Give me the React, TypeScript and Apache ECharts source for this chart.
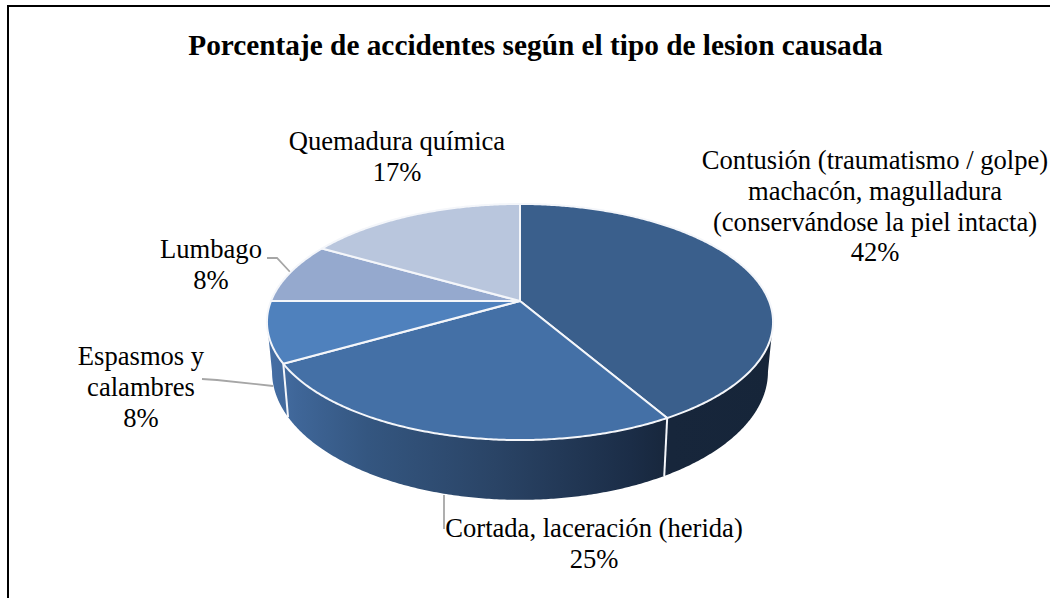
import React, { useEffect, useRef } from "react";
import * as echarts from "echarts";

const titleText = "Porcentaje de accidentes según el tipo de lesion causada";
const categories = [
  "Contusión (traumatismo / golpe)\nmachacón, magulladura\n(conservándose la piel intacta)",
  "Cortada, laceración (herida)",
  "Espasmos y\ncalambres",
  "Lumbago",
  "Quemadura química",
];
const values = [5, 3, 1, 1, 2];
const percents = ["42%", "25%", "8%", "8%", "17%"];
const topColors = ["#3a5f8c", "#4470a6", "#4f81bd", "#95a9ce", "#b9c6dd"];

// layout of the labels: centre x and first-line y
const labelAnchors = [
  [875, 145],
  [594, 513],
  [141, 341],
  [211, 234],
  [397, 126],
];
const leaderLines = [
  [],
  [[444, 495], [444, 529]],
  [[202, 379], [217, 380], [273, 386]],
  [[267, 258], [277, 258], [291, 273]],
  [],
];

const CX = 520;
const TOP_Y = 301;
const A = 249;
const C = 114.3;
const K = 0.178;
const BOT_Y = 349;
const A_BOT = 244;
const C_BOT = 124;

const rad = (d: number) => (d * Math.PI) / 180;
const topPt = (deg: number) => {
  const u = Math.sin(rad(deg));
  const v = Math.cos(rad(deg));
  const w = 1 + K * v;
  return [CX + (A * u) / w, TOP_Y - (C * v) / w];
};
const botPt = (deg: number) => {
  const u = Math.sin(rad(deg));
  const v = Math.cos(rad(deg));
  const w = 1 + K * v;
  return [CX + (A_BOT * u) / w, BOT_Y - (C_BOT * v) / w];
};
const arc = (fn: (d: number) => number[], a: number, b: number) => {
  const n = Math.max(2, Math.ceil(Math.abs(b - a) * 2));
  const out: number[][] = [];
  for (let i = 0; i <= n; i++) out.push(fn(a + ((b - a) * i) / n));
  return out;
};

const total = values.reduce((s, v) => s + v, 0);
const cum: number[] = [0];
values.forEach((v) => cum.push(cum[cum.length - 1] + v));
const VIS_A = (Math.acos(-K) * 180) / Math.PI;
const VIS_B = 360 - VIS_A;

const wallFill = {
  type: "linear",
  global: true,
  x: 267,
  y: 0,
  x2: 772,
  y2: 0,
  colorStops: [
    { offset: 0, color: "#466fa5" },
    { offset: 0.06, color: "#3f6698" },
    { offset: 0.2, color: "#345680" },
    { offset: 0.45, color: "#2a4466" },
    { offset: 0.72, color: "#1b2d47" },
    { offset: 0.8, color: "#17263b" },
    { offset: 1, color: "#162539" },
  ],
};
const edge = "#f4f6fa";

function renderItem(params: any) {
  const i = params.dataIndex;
  const a0 = (cum[i] / total) * 360;
  const a1 = (cum[i + 1] / total) * 360;
  const children: any[] = [];
  const s = Math.max(a0, VIS_A);
  const e = Math.min(a1, VIS_B);
  if (e > s) {
    children.push({
      type: "polygon",
      shape: { points: [...arc(topPt, s, e), ...arc(botPt, e, s)] },
      style: { fill: wallFill, stroke: null },
    });
    // separator between walls at the slice's start
    if (a0 >= VIS_A && a0 <= VIS_B) {
      children.push({
        type: "line",
        shape: { x1: topPt(a0)[0], y1: topPt(a0)[1], x2: botPt(a0)[0], y2: botPt(a0)[1] },
        style: { stroke: edge, lineWidth: 2 },
      });
    }
  }
  children.push({
    type: "polygon",
    shape: { points: [[CX, TOP_Y], ...arc(topPt, a0, a1)] },
    style: { fill: topColors[i], stroke: edge, lineWidth: 2, lineJoin: "round" },
  });
  return { type: "group", children };
}

const FONT = "'Liberation Serif', 'Times New Roman', serif";

export default function App() {
  const ref = useRef<HTMLDivElement>(null);
  useEffect(() => {
    document.body.style.margin = "0";
    document.body.style.overflow = "hidden";
    const chart = echarts.init(ref.current!, null, { renderer: "svg" });
    const labels = categories.map((c, i) => ({
      type: "text",
      x: labelAnchors[i][0],
      y: labelAnchors[i][1],
      style: {
        text: `${c}\n${percents[i]}`,
        fill: "#000",
        font: `26.6px ${FONT}`,
        lineHeight: 30.6,
        align: "center",
        verticalAlign: "top",
      },
    }));
    const leaders = leaderLines
      .filter((l) => l.length)
      .map((pts) => ({
        type: "polyline",
        shape: { points: pts },
        style: { stroke: "#a6a6a6", lineWidth: 1.8, fill: null },
      }));
    chart.setOption({
      animation: false,
      backgroundColor: "#fff",
      title: {
        text: titleText,
        left: 530.5,
        top: 25,
        textAlign: "center",
        textStyle: { fontFamily: FONT, fontWeight: "bold", fontSize: 29.3, color: "#000" },
      },
      graphic: [
        { type: "line", shape: { x1: 8, y1: 5, x2: 8, y2: 598 }, style: { stroke: "#000", lineWidth: 2 } },
        { type: "line", shape: { x1: 7, y1: 6, x2: 1050, y2: 6 }, style: { stroke: "#000", lineWidth: 2 } },
        ...leaders,
        ...labels,
      ],
      series: [
        {
          type: "custom",
          coordinateSystem: "none",
          renderItem,
          data: values,
          silent: true,
        },
      ],
    });
    return () => chart.dispose();
  }, []);
  return <div ref={ref} style={{ width: 1050, height: 598 }} />;
}
